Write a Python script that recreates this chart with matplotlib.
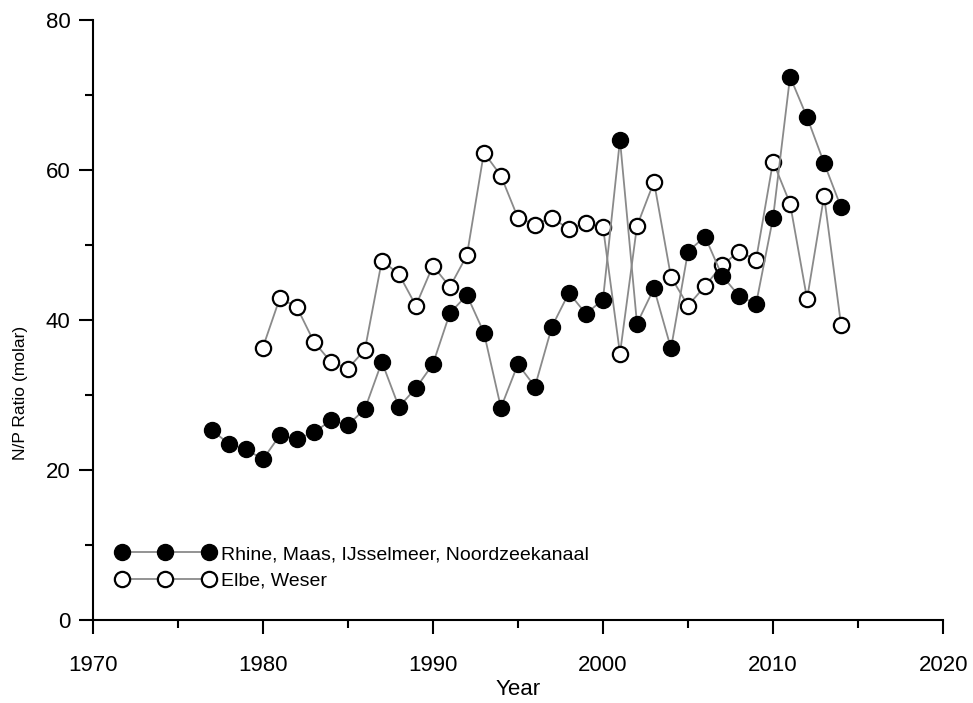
import numpy as np
import matplotlib.pyplot as plt

plt.rcParams['font.family'] = ['Liberation Sans', 'DejaVu Sans']

# Rhine, Maas, IJsselmeer, Noordzeekanaal
years_rm = list(range(1977, 2015))
np_rm = [25.3, 23.5, 22.8, 21.4, 24.6, 24.1, 25.0, 26.6, 26.0, 28.1,
         34.4, 28.4, 30.9, 34.1, 40.9, 43.3, 38.3, 28.3, 34.1, 31.1,
         39.1, 43.6, 40.8, 42.7, 64.0, 39.5, 44.2, 36.2, 49.1, 51.1,
         45.9, 43.2, 42.1, 53.6, 72.4, 67.0, 60.9, 55.0]

# Elbe, Weser
years_ew = list(range(1980, 2015))
np_ew = [36.3, 42.9, 41.7, 37.1, 34.4, 33.5, 36.0, 47.9, 46.1, 41.9,
         47.2, 44.4, 48.6, 62.3, 59.2, 53.6, 52.7, 53.6, 52.1, 52.9,
         52.4, 35.5, 52.5, 58.4, 45.7, 41.9, 44.5, 47.3, 49.1, 48.0,
         61.1, 55.5, 42.8, 56.5, 39.3]

fig = plt.figure(figsize=(9.73, 7.03), dpi=100)
ax = fig.add_axes([0.0953, 0.118, 0.874, 0.854])

ax.plot(years_rm, np_rm, color='#8a8a8a', lw=1.3, marker='o', ms=11.5,
        mfc='black', mec='black', mew=1.0,
        label='Rhine, Maas, IJsselmeer, Noordzeekanaal', zorder=3)
ax.plot(years_ew, np_ew, color='#8a8a8a', lw=1.3, marker='o', ms=11,
        mfc='white', mec='black', mew=1.6,
        label='Elbe, Weser', zorder=2)

ax.set_xlim(1970, 2020)
ax.set_ylim(0, 80)
ax.set_xticks(np.arange(1970, 2021, 10))
ax.set_xticks(np.arange(1975, 2020, 10), minor=True)
ax.set_yticks(np.arange(0, 81, 20))
ax.set_yticks(np.arange(10, 80, 20), minor=True)

for s in ['top', 'right']:
    ax.spines[s].set_visible(False)
for s in ['left', 'bottom']:
    ax.spines[s].set_linewidth(1.5)

ax.tick_params(which='major', direction='out', length=10, width=1.5,
               labelsize=16, pad=6, colors='black')
ax.tick_params(which='minor', direction='out', length=6, width=1.5)
ax.tick_params(axis='x', which='major', pad=15)

ax.set_xlabel('Year', fontsize=16, labelpad=2)
ax.set_ylabel('N/P Ratio (molar)', fontsize=12.5)
ax.yaxis.set_label_coords(-0.076, 0.378)

ax.legend(loc='lower left', bbox_to_anchor=(0.018, 0.038), frameon=False,
          numpoints=3, handlelength=5.1, handletextpad=0.3,
          labelspacing=0.45, fontsize=14, borderaxespad=0.0)

fig.savefig('out.png', dpi=100)
